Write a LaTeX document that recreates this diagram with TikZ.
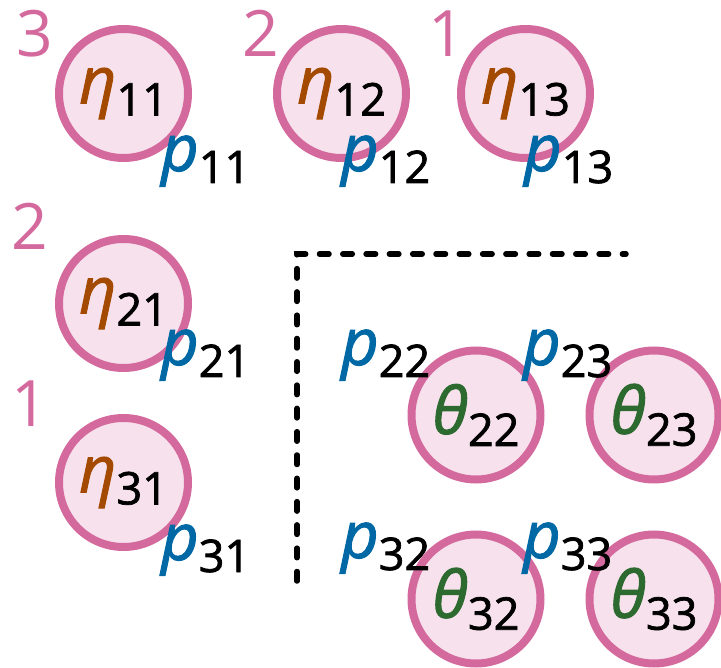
\documentclass[tikz,border=0pt]{standalone}
\usepackage{fontspec}
\setmainfont{Open Sans}
\newfontfamily\heavyfont[FakeBold=1.6]{Open Sans}
\definecolor{ringcolor}{HTML}{D4699D}
\definecolor{cellfill}{HTML}{F7E1EC}
\definecolor{etacolor}{HTML}{A34A00}
\definecolor{thetacolor}{HTML}{2D6A2F}
\definecolor{pricecolor}{HTML}{0069A5}
\newcommand\idx[1]{\raisebox{-12pt}{\fontsize{45}{45}\heavyfont\color{black}#1}}
\newcommand\etaof[1]{{\heavyfont\itshape\color{etacolor}η}\idx{#1}}
\newcommand\thetaof[1]{{\heavyfont\itshape\color{thetacolor}θ}\idx{#1}}
\newcommand\priceof[1]{{\heavyfont\itshape\color{pricecolor}p}\idx{#1}}
\tikzset{
  grid cell/.style={circle,draw=ringcolor,fill=cellfill,line width=8pt,minimum size=129pt,inner sep=0pt,font=\fontsize{65}{65}\selectfont},
  grid price/.style={anchor=base west,inner sep=0pt,font=\fontsize{65}{65}\selectfont},
  grid count/.style={anchor=base west,inner sep=0pt,text=ringcolor,font=\fontsize{64}{64}\selectfont},
  grid cut/.style={line width=5.5pt,dash pattern=on 9.5pt off 13.8pt,line cap=round}
}
\begin{document}
\begin{tikzpicture}[x=1pt,y=-1pt]
  \useasboundingbox (0,0) rectangle (721,668);
  % first row and first column
  \node[grid cell] (eta11) at (123.5,93.5) {\etaof{11}};
  \node[grid cell] (eta12) at (341.5,93.5) {\etaof{12}};
  \node[grid cell] (eta13) at (525.5,93.5) {\etaof{13}};
  \node[grid cell] (eta21) at (123.5,303.5) {\etaof{21}};
  \node[grid cell] (eta31) at (123.5,482.5) {\etaof{31}};
  \node[grid count] (n11) at (16,57) {3};
  \node[grid count] (n12) at (242,57) {2};
  \node[grid count] (n13) at (428,57) {1};
  \node[grid count] (n21) at (11,250) {2};
  \node[grid count] (n31) at (11,427) {1};
  \node[grid price] (p11) at (161,171) {\priceof{11}};
  \node[grid price] (p12) at (341,171) {\priceof{12}};
  \node[grid price] (p13) at (524,171) {\priceof{13}};
  \node[grid price] (p21) at (161,365) {\priceof{21}};
  \node[grid price] (p31) at (161,560) {\priceof{31}};
  % the rest of the table
  \draw[grid cut] (297,581) -- (297,254) -- (626,254);
  \node[grid cell] (theta22) at (476,415) {\thetaof{22}};
  \node[grid cell] (theta23) at (654,415) {\thetaof{23}};
  \node[grid cell] (theta32) at (476,599) {\thetaof{32}};
  \node[grid cell] (theta33) at (654,599) {\thetaof{33}};
  \node[grid price] (p22) at (341,365) {\priceof{22}};
  \node[grid price] (p23) at (523,365) {\priceof{23}};
  \node[grid price] (p32) at (341,558) {\priceof{32}};
  \node[grid price] (p33) at (523,558) {\priceof{33}};
\end{tikzpicture}
\end{document}
